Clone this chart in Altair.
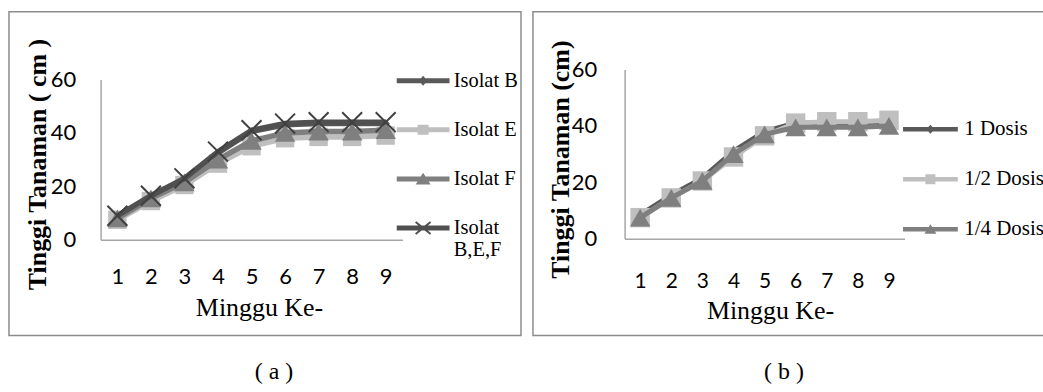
import altair as alt
import pandas as pd
import numpy as np

# ---------------- data ----------------
weeks = [1, 2, 3, 4, 5, 6, 7, 8, 9]
y_ticks = [0, 20, 40, 60]

series_a = ["Isolat B", "Isolat E", "Isolat F", "Isolat B,E,F"]
isolat_b = [8.5, 16, 22.5, 32.5, 40.5, 43, 43.5, 43.5, 43.5]
isolat_e = [7.5, 14.5, 20.5, 28.5, 35, 38, 38.5, 38.5, 39]
isolat_f = [8, 15.5, 21.5, 30, 37, 40, 40.5, 40.5, 41]
isolat_bef = [9, 16.5, 23, 33, 41, 43.5, 44, 44, 44]

series_b = ["1 Dosis", "1/2 Dosis", "1/4 Dosis"]
dosis_1 = [8.5, 15.5, 21.5, 31, 38, 41, 41, 41, 41.5]
dosis_half = [7.5, 14.5, 20.5, 29, 36.5, 41, 41.5, 41.5, 42]
dosis_quarter = [7.5, 14.5, 20.5, 30, 37, 39.5, 39.5, 39.5, 40]

x_title = "Minggu Ke-"
y_title_a = "Tinggi Tanaman ( cm )"
y_title_b = "Tinggi Tanaman (cm)"


def long_df(names, arrays):
    rows = []
    for n, arr in zip(names, arrays):
        for w, v in zip(weeks, arr):
            rows.append({"week": w, "series": n, "value": v})
    return pd.DataFrame(rows)


df_a = long_df(series_a, [isolat_b, isolat_e, isolat_f, isolat_bef])
df_b = long_df(series_b, [dosis_1, dosis_half, dosis_quarter])

# ---------------- styles ----------------
DARK = "#595959"
DARKER = "#505050"
LIGHT = "#bfbfbf"
MID = "#7f7f7f"
XCOL = "#404040"
SERIF = "Liberation Serif"
SANS = "Lato"


# legend symbol paths (line + marker), unit = sqrt(size)/2 px
def poly(points):
    pts = np.array(points, float)
    x, y = pts[:, 0], pts[:, 1]
    area = 0.5 * np.sum(x * np.roll(y, -1) - np.roll(x, -1) * y)
    if area < 0:
        pts = pts[::-1]
    return "M" + "L".join(f"{px:.3f},{py:.3f}" for px, py in pts) + "Z"


def bar(half_len, half_th):
    return poly([(-half_len, -half_th), (half_len, -half_th), (half_len, half_th), (-half_len, half_th)])


def seg(p, q, t):
    p, q = np.array(p, float), np.array(q, float)
    d = (q - p) / np.linalg.norm(q - p)
    n = np.array([-d[1], d[0]]) * t
    return poly([p + n, q + n, q - n, p - n])


def m_diamond(w, h):
    return poly([(-w, 0), (0, -h), (w, 0), (0, h)])


def m_square(w, h):
    return poly([(-w, -h), (w, -h), (w, h), (-w, h)])


def m_triangle(w, h):
    return poly([(0, -h), (w, h * 0.9), (-w, h * 0.9)])


def m_x(w, h, t):
    return seg((-w, -h), (w, h), t) + seg((-w, h), (w, -h), t)


LA = 2.65
paths_a = [
    bar(LA, 0.25) + m_diamond(0.42, 0.5),
    bar(LA, 0.25) + m_square(0.55, 0.5),
    bar(LA, 0.25) + m_triangle(0.75, 0.62),
    bar(LA, 0.25) + m_x(0.75, 0.6, 0.1),
]
LB = 2.75
paths_b = [
    bar(LB, 0.23) + m_diamond(0.42, 0.45),
    bar(LB, 0.23) + m_square(0.5, 0.5),
    bar(LB, 0.23) + m_triangle(0.6, 0.5),
]

XPATH = "M-1,-1L1,1M1,-1L-1,1"

marks_a = [
    dict(shape="diamond", size=70, filled=True, color=DARK, opacity=1),
    dict(shape="square", size=340, filled=True, color=LIGHT, opacity=1),
    dict(shape="triangle-up", size=420, filled=True, color=MID, opacity=1),
    dict(shape=XPATH, size=400, filled=False, color=XCOL, strokeWidth=2, opacity=1),
]
marks_b = [
    dict(shape="diamond", size=70, filled=True, color=DARK, opacity=1),
    dict(shape="square", size=380, filled=True, color=LIGHT, opacity=1),
    dict(shape="triangle-up", size=420, filled=True, color=MID, opacity=1),
]


def panel(df, names, line_colors, marks, legend_paths, legend_colors, xr, yr,
          yaxis_kw, xaxis_kw, legend_kw, title_kw, width, height, line_w):
    base = alt.Chart(df)
    common_axis = dict(
        ticks=False, tickSize=0, grid=False, domainColor="#a6a6a6", domainWidth=1.5,
        labelColor="#000000", labelFont=SANS, labelFontSize=22, titleColor="#000000",
        titleFont=SERIF, titleFontSize=26,
    )
    x_axis = {**common_axis, "labelAngle": 0, "titleFontWeight": "normal",
              "titleAlign": "center", "titleBaseline": "alphabetic", **xaxis_kw}
    y_axis = {**common_axis, "values": y_ticks, "titleFontWeight": "bold", "titleAngle": 270,
              "titleAlign": "center", "titleBaseline": "middle", **yaxis_kw}
    x = alt.X("week:O", scale=alt.Scale(range=xr), axis=alt.Axis(**x_axis))
    y = alt.Y("value:Q", scale=alt.Scale(domain=[0, 60], range=yr, nice=False),
              axis=alt.Axis(**y_axis))
    layers = []
    for n, c, m in zip(names, line_colors, marks):
        sub = base.transform_filter(alt.datum.series == n)
        layers.append(sub.mark_line(color=c, strokeWidth=line_w).encode(x=x, y=y))
        layers.append(sub.mark_point(**m).encode(x=x, y=y))
    leg = alt.Legend(
        orient="none", title=None, padding=0, offset=0, symbolOffset=0,
        symbolSize=400, symbolStrokeWidth=0,
        labelFont=SERIF, labelColor="#000000", labelLimit=300, labelBaseline="middle",
        labelExpr="datum.value == 'Isolat B,E,F' ? ['Isolat', 'B,E,F'] : datum.label",
        **legend_kw,
    )
    layers.append(
        base.transform_filter("false")
        .mark_point(filled=True, opacity=1, strokeWidth=0)
        .encode(
            x=x, y=y,
            shape=alt.Shape("series:N", scale=alt.Scale(domain=names, range=legend_paths), legend=leg),
            color=alt.Color("series:N", scale=alt.Scale(domain=names, range=legend_colors), legend=leg),
        )
    )
    return alt.layer(*layers).properties(
        width=width, height=height,
        title=alt.TitleParams(orient="bottom", anchor="middle", font=SERIF, fontSize=24,
                              fontWeight="normal", color="#000000", baseline="top", **title_kw),
    )


left = panel(
    df_a, series_a, [DARK, LIGHT, MID, DARKER], marks_a, paths_a, [DARK, LIGHT, MID, DARKER],
    xr=[92, 395], yr=[229, 68],
    yaxis_kw=dict(title=y_title_a, offset=-92, labelPadding=25, titleX=-63, titleY=153),
    xaxis_kw=dict(title=x_title, offset=-96, labelPadding=27, titleX=251, titleY=76),
    legend_kw=dict(legendX=405.5, legendY=59, labelOffset=20.5,
                   labelFontSize=20.5, rowPadding=28.3),
    title_kw=dict(text="( a )", offset=25, dx=9),
    width=514, height=325, line_w=5.5,
)

right = panel(
    df_b, series_b, [DARK, LIGHT, MID], marks_b, paths_b, [DARK, LIGHT, MID],
    xr=[92, 373], yr=[228, 58],
    yaxis_kw=dict(title=y_title_b, offset=-92, labelPadding=28, titleX=-64, titleY=148),
    xaxis_kw=dict(title=x_title, offset=-97, labelPadding=32, labelFontSize=21,
                  titleX=238, titleY=80),
    legend_kw=dict(legendX=388.5, legendY=107.5, labelOffset=23.5,
                   labelFontSize=21, rowPadding=28.2),
    title_kw=dict(text="( b )", offset=25, dx=-5),
    width=514, height=325, line_w=5,
)

chart = (
    alt.hconcat(left, right, spacing=10)
    .properties(padding={"left": 8, "top": 10, "right": -3, "bottom": 0}, background="white")
    .configure_view(stroke="#8c8c8c", strokeWidth=1.5)
    .resolve_scale(x="independent", y="independent", color="independent", shape="independent")
)

chart.save("out.html", embed_options={"renderer": "svg", "actions": False})
